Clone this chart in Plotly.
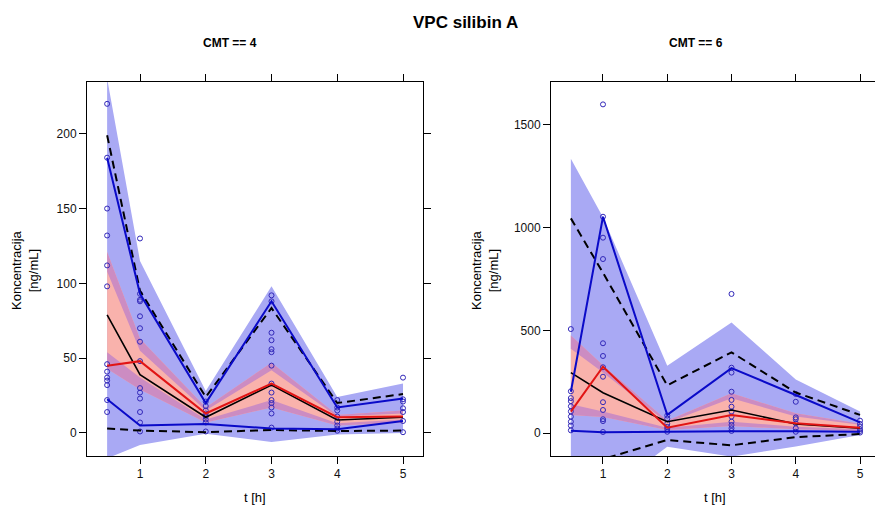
import plotly.graph_objects as go

W, H = 875, 509
times = [0.5, 1, 2, 3, 4, 5]

# ---------------- CMT == 4 ----------------
obs4 = [
    [220, 184, 150, 132, 112, 98, 46, 41, 37, 35, 32, 22, 14],
    [130, 93, 89, 88, 78, 70, 61, 48, 30, 27, 23, 14, 7, 1],
    [21, 18, 15, 13, 11, 9, 7, 1],
    [92, 88, 67, 62, 56, 54, 45, 33, 27, 22, 20, 17, 13, 3.6],
    [22, 17, 15, 11, 7.5, 5, 3, 1.5],
    [37, 22.5, 21, 16.5, 14, 8, 0.5],
]
blue_hi4 = [184, 93, 20, 88, 17, 23]
blue_lo4 = [22.5, 5, 6, 3, 2.5, 8]
red4 = [45, 48, 13, 33, 10.5, 11]
black4 = [79, 39, 10.5, 32, 8.7, 10.5]
dash_hi4 = [199, 95, 24, 83.5, 20, 26]
dash_lo4 = [3, 1.6, 0.5, 2, 1.3, 1.6]
band_top4 = [237, 115, 28, 98, 24, 33]
band_bot4 = [-17, -8, -0.5, -6, -1, 0]
med_hi4 = [121, 63, 17, 47, 12, 15]
p95_lo4 = [108, 55, 15, 42, 11, 13]
p5_hi4 = [54, 37, 9, 22, 6.5, 9]
med_lo4 = [43, 29, 7, 17, 5, 7]

# ---------------- CMT == 6 ----------------
obs6 = [
    [506, 203, 170, 155, 130, 105, 80, 55, 36, 13],
    [1600, 1053, 951, 847, 437, 375, 320, 274, 150, 112, 67, 58, 5],
    [85, 70, 45, 30, 20, 6],
    [677, 318, 294, 201, 161, 128, 104, 80, 55, 39, 23, 10],
    [190, 152, 76, 67, 47, 23, 6],
    [60, 44, 31, 18, 10, 2],
]
blue_hi6 = [201, 1053, 88, 316, 185, 52]
blue_lo6 = [11, 4, 6, 9, 8, 6]
red6 = [104, 323, 26, 88, 47, 26]
black6 = [294, 196, 55, 112, 44, 23]
dash_hi6 = [1045, 780, 232, 393, 197, 88]
dash_lo6 = [-180, -127, -34, -60, -20, -5]
band_top6 = [1335, 1050, 328, 538, 260, 105]
band_bot6 = [-400, -300, -67, -115, -66, -10]
med_hi6 = [475, 330, 60, 193, 96, 45]
p95_lo6 = [410, 295, 50, 169, 80, 40]
p5_hi6 = [140, 105, 25, 55, 31, 18]
med_lo6 = [88, 78, 15, 34, 18, 10]

C_BLUE_BAND = "rgb(169,169,244)"
C_PINK = "rgb(249,178,172)"
C_PURPLE = "rgb(204,140,194)"
C_BLUE = "rgb(10,10,200)"
C_RED = "rgb(225,20,20)"
C_OBS = "rgb(50,40,185)"
FONT = "Liberation Sans, Arial, sans-serif"

fig = go.Figure()


def band(lo, hi, color, xa, ya):
    fig.add_trace(go.Scatter(
        x=times + times[::-1], y=hi + lo[::-1], fill="toself",
        fillcolor=color, line=dict(width=0), mode="lines",
        hoverinfo="skip", showlegend=False, xaxis=xa, yaxis=ya))


def line(y, color, width, dash, xa, ya):
    fig.add_trace(go.Scatter(
        x=times, y=y, mode="lines", line=dict(color=color, width=width, dash=dash),
        showlegend=False, xaxis=xa, yaxis=ya))


def panel(obs, bhi, blo, red, black, dhi, dlo, btop, bbot, mhi, p95lo, p5hi, mlo, xa, ya):
    band(bbot, btop, C_BLUE_BAND, xa, ya)
    band(mlo, mhi, C_PINK, xa, ya)
    band(p95lo, mhi, C_PURPLE, xa, ya)
    band(mlo, p5hi, C_PURPLE, xa, ya)
    ox, oy = [], []
    for t, vals in zip(times, obs):
        ox += [t] * len(vals)
        oy += vals
    fig.add_trace(go.Scatter(
        x=ox, y=oy, mode="markers",
        marker=dict(symbol="circle-open", size=5, color=C_OBS, line=dict(width=1, color=C_OBS)),
        showlegend=False, xaxis=xa, yaxis=ya, cliponaxis=True))
    line(dhi, "black", 2, "8px,5px", xa, ya)
    line(dlo, "black", 2, "8px,5px", xa, ya)
    line(black, "black", 1.6, "solid", xa, ya)
    line(red, C_RED, 2, "solid", xa, ya)
    line(bhi, C_BLUE, 2, "solid", xa, ya)
    line(blo, C_BLUE, 2, "solid", xa, ya)


panel(obs4, blue_hi4, blue_lo4, red4, black4, dash_hi4, dash_lo4, band_top4, band_bot4,
      med_hi4, p95_lo4, p5_hi4, med_lo4, "x", "y")
panel(obs6, blue_hi6, blue_lo6, red6, black6, dash_hi6, dash_lo6, band_top6, band_bot6,
      med_hi6, p95_lo6, p5_hi6, med_lo6, "x2", "y2")

ydom = [1 - 456 / H, 1 - 82 / H]
axis_common = dict(showgrid=False, zeroline=False, showline=True, linecolor="black",
                   linewidth=1, ticks="outside", ticklen=7, tickcolor="black",
                   tickfont=dict(family=FONT, size=12, color="#111"))

fig.update_layout(
    width=W, height=H, margin=dict(l=0, r=0, t=0, b=0),
    plot_bgcolor="white", paper_bgcolor="white",
    xaxis=dict(domain=[87 / W, 423 / W], range=[0.194, 5.304], tickvals=[1, 2, 3, 4, 5],
               mirror="ticks", anchor="y", **axis_common),
    yaxis=dict(domain=ydom, range=[-15.4, 234.6], tickvals=[0, 50, 100, 150, 200],
               mirror="ticks", anchor="x", **axis_common),
    xaxis2=dict(domain=[551 / W, 1.0], range=[0.191, 5.233], tickvals=[1, 2, 3, 4, 5],
                mirror="ticks", anchor="y2", **axis_common),
    yaxis2=dict(domain=ydom, range=[-112, 1709], tickvals=[0, 500, 1000, 1500],
                mirror=False, anchor="x2", **axis_common),
)

ann = [
    dict(text="<b>VPC silibin A</b>", x=465, y=22, size=17),
    dict(text="<b>CMT == 4</b>", x=230, y=43, size=12),
    dict(text="<b>CMT == 6</b>", x=696, y=43, size=12),
    dict(text="t [h]", x=255, y=497, size=13),
    dict(text="t [h]", x=715, y=497, size=13),
]
for a in ann:
    fig.add_annotation(text=a["text"], x=a["x"] / W, y=1 - a["y"] / H, xref="paper", yref="paper",
                       xanchor="center", yanchor="middle", showarrow=False,
                       font=dict(family=FONT, size=a["size"], color="black"))
for xc in (25, 485):
    fig.add_annotation(text="Koncentracija<br>[ng/mL]", x=xc / W, y=1 - 270 / H,
                       xref="paper", yref="paper", xanchor="center", yanchor="middle",
                       textangle=-90, showarrow=False,
                       font=dict(family=FONT, size=13, color="black"))

fig.write_html("out.html")
